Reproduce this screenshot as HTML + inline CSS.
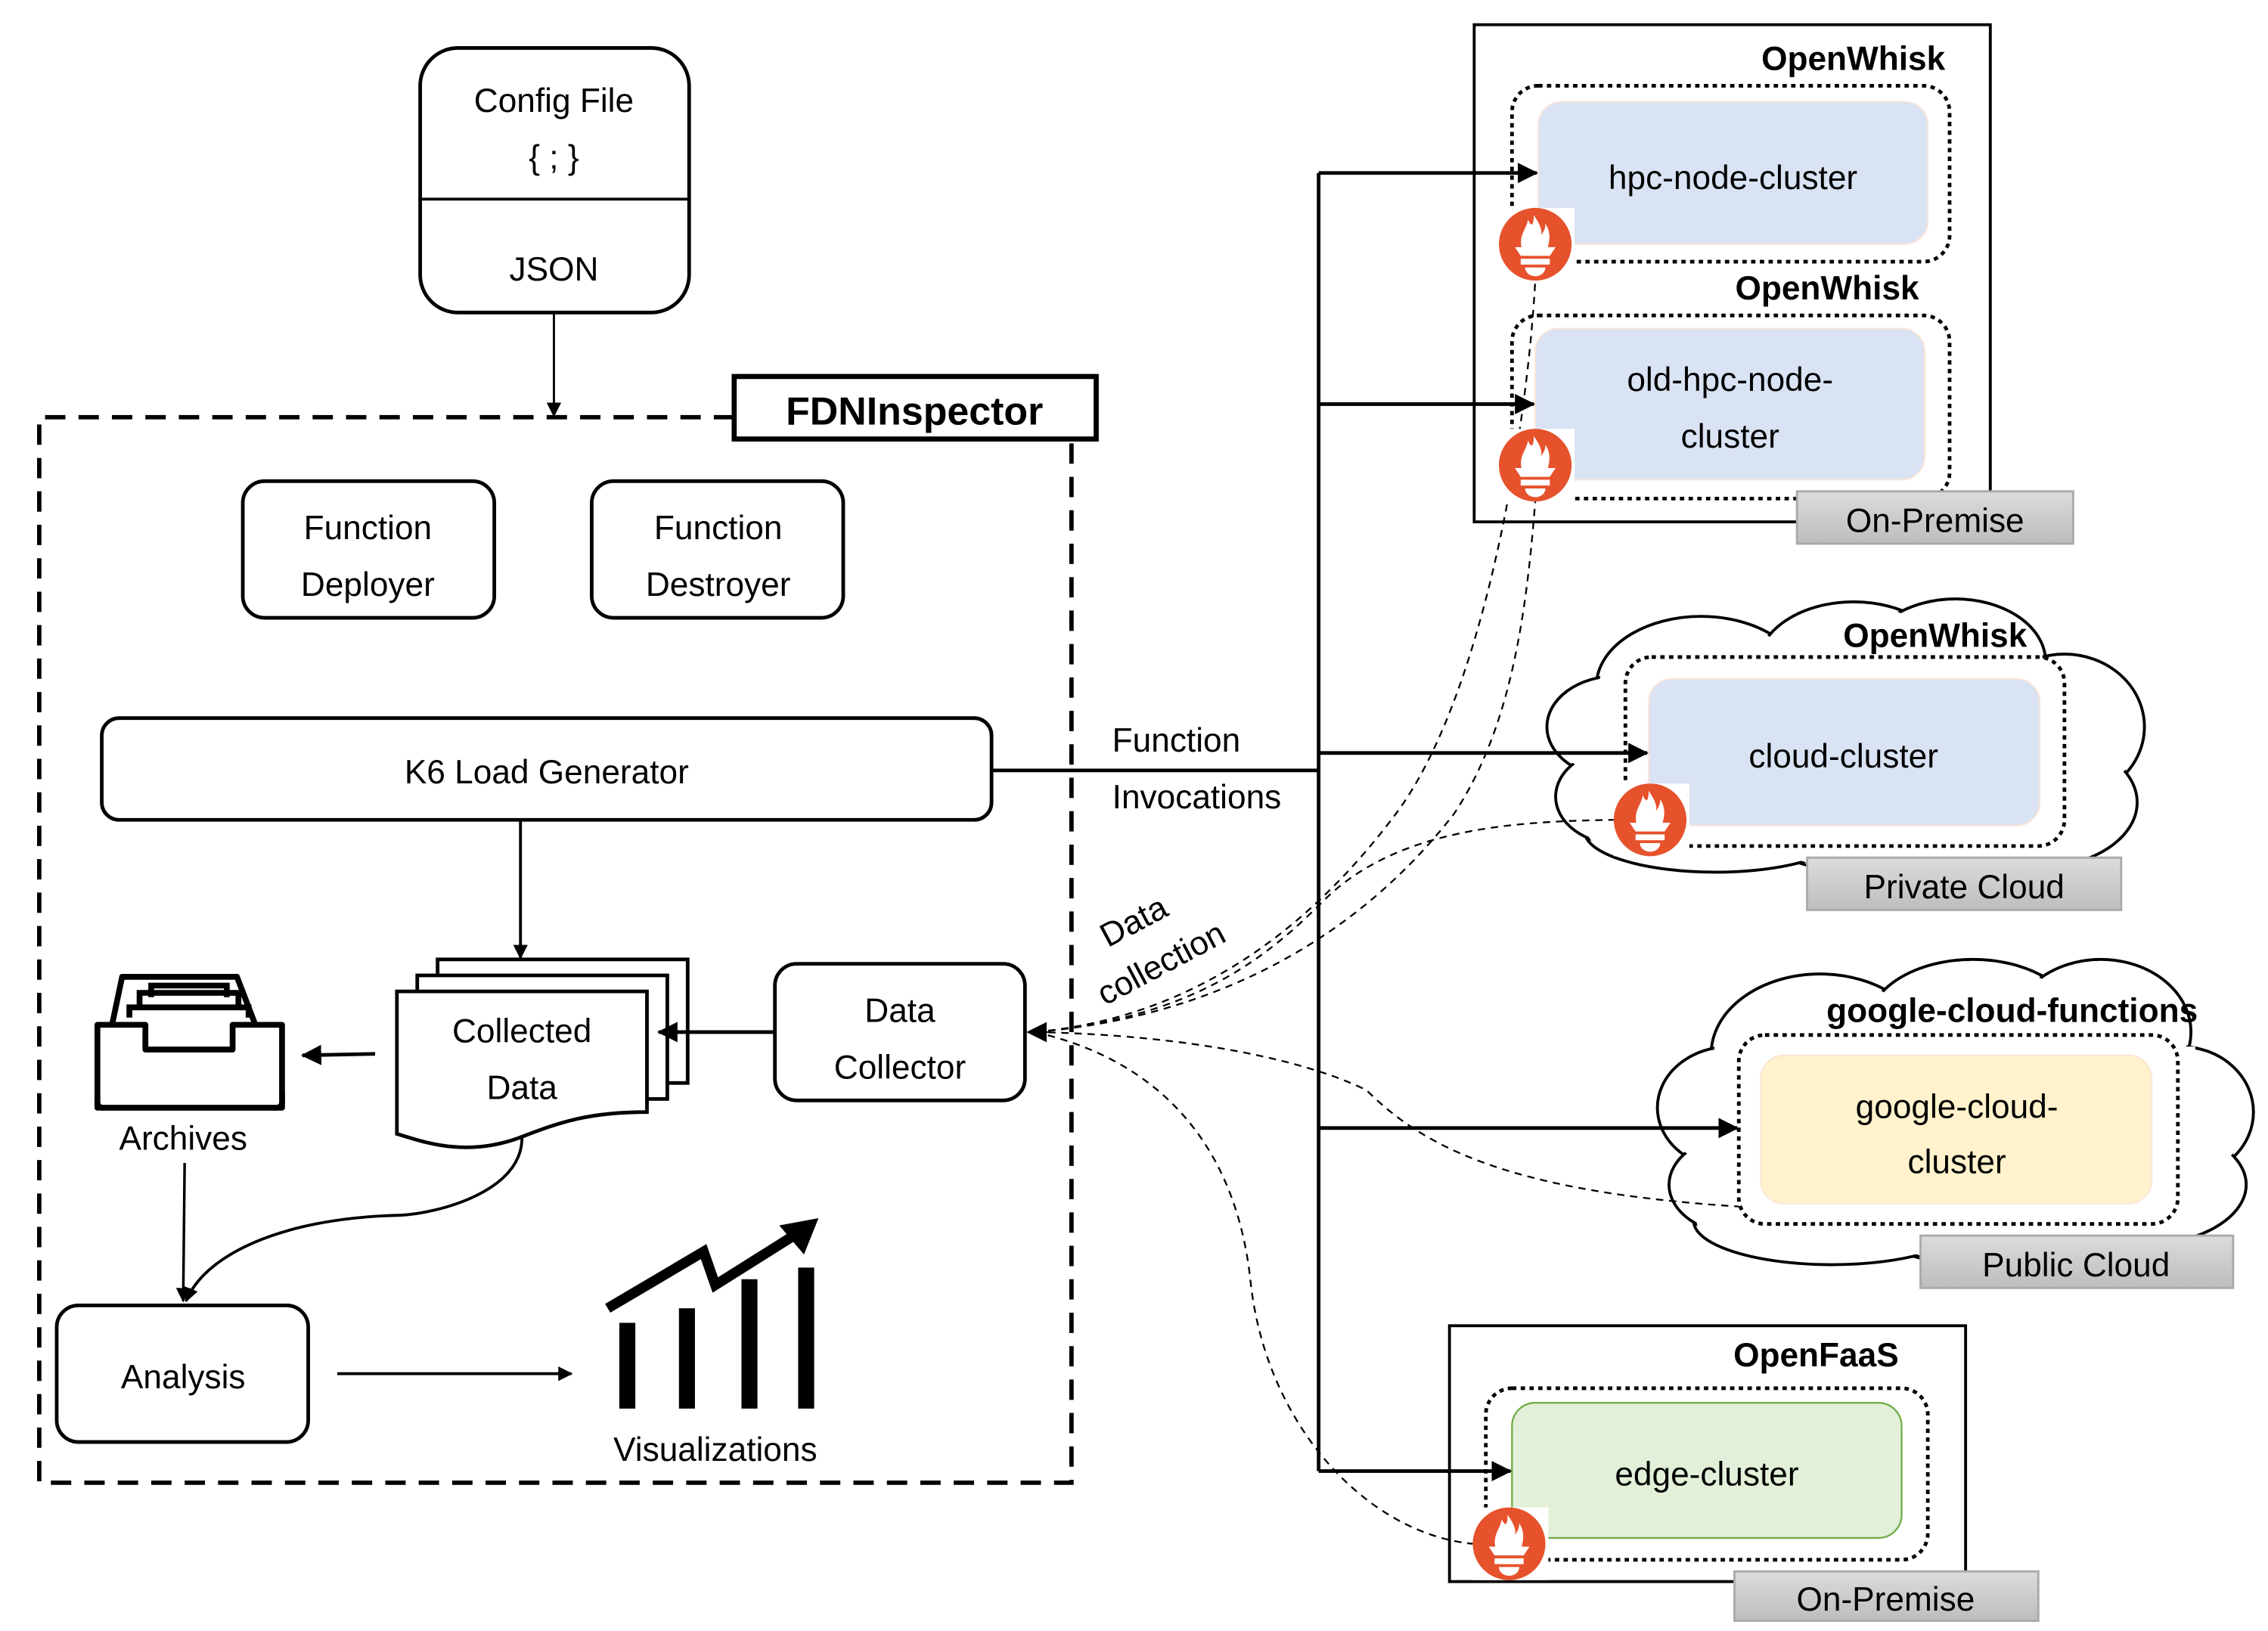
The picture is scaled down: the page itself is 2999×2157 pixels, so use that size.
<!DOCTYPE html>
<html><head><meta charset="utf-8">
<style>
html,body{margin:0;padding:0;background:#fff;}
svg{display:block;}
text{font-family:"Liberation Sans",sans-serif;fill:#000;}
</style></head>
<body>
<svg width="2999" height="2157" viewBox="0 0 1560 1122" preserveAspectRatio="none" xmlns="http://www.w3.org/2000/svg">
<defs>
<marker id="ah" markerWidth="10" markerHeight="10" refX="9" refY="5" orient="auto" markerUnits="userSpaceOnUse">
<path d="M0,0 L10,5 L0,10 z" fill="#000"/></marker>
<marker id="ahb" markerWidth="14" markerHeight="14" refX="13" refY="7" orient="auto" markerUnits="userSpaceOnUse">
<path d="M0,0 L14,7 L0,14 z" fill="#000"/></marker>
<linearGradient id="gr" x1="0" y1="0" x2="0" y2="1"><stop offset="0" stop-color="#dcdcdc"/><stop offset="1" stop-color="#bdbdbd"/></linearGradient>
<g id="prom">
<rect x="-25" y="-25" width="52" height="50" fill="#fff"/>
<circle cx="0" cy="0" r="25" fill="#e6522c"/>
<path d="M-9,4 C-12,-6 -6,-10 -5,-17 C-3,-12 -1,-12 -1,-20 C3,-14 5,-10 4,-6 C6,-9 7,-11 7,-14 C11,-8 10,-2 8,4 Z" fill="#fff"/>
<path d="M-14,2 L14,2 L10,8 L-10,8 Z" fill="#fff"/>
<rect x="-10" y="10" width="20" height="4" fill="#fff"/>
<path d="M-7,16 L7,16 A7,6 0 0 1 -7,16 Z" fill="#fff"/>
</g>
</defs>

<!-- Config file -->
<rect x="289" y="33" width="185" height="182" rx="26" fill="#fff" stroke="#000" stroke-width="2.5"/>
<line x1="289" y1="137" x2="474" y2="137" stroke="#000" stroke-width="2"/>
<text x="381" y="77" font-size="23" text-anchor="middle">Config File</text>
<text x="381" y="116" font-size="23" text-anchor="middle">{ ; }</text>
<text x="381" y="193" font-size="23" text-anchor="middle">JSON</text>
<line x1="381" y1="215" x2="381" y2="286" stroke="#000" stroke-width="1.5" marker-end="url(#ah)"/>

<!-- FDNInspector container -->
<path d="M505,287 L27,287 L27,1020 L737,1020 L737,302" fill="none" stroke="#000" stroke-width="3" stroke-dasharray="14,9"/>
<rect x="505" y="259" width="249" height="43" fill="#fff" stroke="#000" stroke-width="3.5"/>
<text x="629" y="292" font-size="27" font-weight="bold" text-anchor="middle">FDNInspector</text>

<rect x="167" y="331" width="173" height="94" rx="15" fill="#fff" stroke="#000" stroke-width="2.5"/>
<text x="253" y="371" font-size="23" text-anchor="middle">Function</text>
<text x="253" y="410" font-size="23" text-anchor="middle">Deployer</text>
<rect x="407" y="331" width="173" height="94" rx="15" fill="#fff" stroke="#000" stroke-width="2.5"/>
<text x="494" y="371" font-size="23" text-anchor="middle">Function</text>
<text x="494" y="410" font-size="23" text-anchor="middle">Destroyer</text>

<rect x="70" y="494" width="612" height="70" rx="12" fill="#fff" stroke="#000" stroke-width="2.5"/>
<text x="376" y="539" font-size="23" text-anchor="middle">K6 Load Generator</text>
<line x1="358" y1="564" x2="358" y2="659" stroke="#000" stroke-width="2" marker-end="url(#ah)"/>

<!-- Collected data -->
<rect x="301" y="660" width="172" height="85" fill="#fff" stroke="#000" stroke-width="2.5"/>
<rect x="287" y="671" width="172" height="85" fill="#fff" stroke="#000" stroke-width="2.5"/>
<path d="M273,682 L445,682 L445,765 C405,765 385,772 359,782 C320,797 290,785 273,780 Z" fill="#fff" stroke="#000" stroke-width="2.5"/>
<text x="359" y="717" font-size="23" text-anchor="middle">Collected</text>
<text x="359" y="756" font-size="23" text-anchor="middle">Data</text>

<rect x="533" y="663" width="172" height="94" rx="15" fill="#fff" stroke="#000" stroke-width="2.5"/>
<text x="619" y="703" font-size="23" text-anchor="middle">Data</text>
<text x="619" y="742" font-size="23" text-anchor="middle">Collector</text>
<line x1="533" y1="710" x2="453" y2="710" stroke="#000" stroke-width="2.5" marker-end="url(#ahb)"/>
<line x1="258" y1="725" x2="208" y2="726" stroke="#000" stroke-width="2.5" marker-end="url(#ahb)"/>

<!-- Archives icon -->
<path d="M84,672 L163,672 L194,753 L194,762 L67,762 L67,753 Z" fill="none" stroke="#000" stroke-width="4" stroke-linejoin="round"/>
<path d="M96,692 L96,683 L164,683 L164,692" fill="none" stroke="#000" stroke-width="4"/>
<path d="M89,700 L89,693 L171,693 L171,700" fill="none" stroke="#000" stroke-width="4"/>
<path d="M104,686 L104,678 L156,678 L156,686" fill="none" stroke="#000" stroke-width="4"/>
<path d="M67,705 L100,705 L100,722 L160,722 L160,705 L194,705 L194,758 Q194,762 190,762 L71,762 Q67,762 67,758 Z" fill="#fff" stroke="#000" stroke-width="4" stroke-linejoin="round"/>
<text x="126" y="791" font-size="23" text-anchor="middle">Archives</text>

<line x1="127" y1="800" x2="126" y2="895" stroke="#000" stroke-width="1.8" marker-end="url(#ah)"/>
<path d="M359,782 C360,820 300,835 275,836 C190,838 140,865 128,895" fill="none" stroke="#000" stroke-width="2" marker-end="url(#ah)"/>

<rect x="39" y="898" width="173" height="94" rx="15" fill="#fff" stroke="#000" stroke-width="2.5"/>
<text x="126" y="955" font-size="23" text-anchor="middle">Analysis</text>
<line x1="232" y1="945" x2="393" y2="945" stroke="#000" stroke-width="2" marker-end="url(#ah)"/>

<!-- Chart -->
<rect x="426" y="910" width="11" height="59" fill="#000"/>
<rect x="467" y="900" width="11" height="69" fill="#000"/>
<rect x="510" y="880" width="11" height="89" fill="#000"/>
<rect x="549" y="872" width="11" height="97" fill="#000"/>
<path d="M418,900 L484,861 L492,884 L546,850" fill="none" stroke="#000" stroke-width="7"/>
<path d="M563,838 L536,843 L553,863 Z" fill="#000"/>
<text x="492" y="1005" font-size="23" text-anchor="middle">Visualizations</text>

<text x="765" y="517" font-size="23">Function</text>
<text x="765" y="556" font-size="23">Invocations</text>
<text x="0" y="0" font-size="23" transform="translate(762,652) rotate(-28)">Data</text>
<text x="0" y="0" font-size="23" transform="translate(760,692) rotate(-28)">collection</text>

<!-- OpenWhisk on-prem box -->
<rect x="1014" y="17" width="355" height="342" fill="#fff" stroke="#000" stroke-width="2"/>
<text x="1338" y="48" font-size="23" font-weight="bold" text-anchor="end">OpenWhisk</text>
<rect x="1040" y="59" width="301" height="121" rx="18" fill="none" stroke="#000" stroke-width="2.5" stroke-dasharray="3,3"/>
<rect x="1058" y="70" width="268" height="98" rx="16" fill="#dae3f3" stroke="#fbe5d6" stroke-width="1"/>
<text x="1192" y="130" font-size="23" text-anchor="middle">hpc-node-cluster</text>
<text x="1320" y="206" font-size="23" font-weight="bold" text-anchor="end">OpenWhisk</text>
<rect x="1040" y="217" width="301" height="126" rx="18" fill="none" stroke="#000" stroke-width="2.5" stroke-dasharray="3,3"/>
<rect x="1056" y="226" width="268" height="104" rx="16" fill="#dae3f3" stroke="#fbe5d6" stroke-width="1"/>
<text x="1190" y="269" font-size="23" text-anchor="middle">old-hpc-node-</text>
<text x="1190" y="308" font-size="23" text-anchor="middle">cluster</text>
<rect x="1236" y="338" width="190" height="36" fill="url(#gr)" stroke="#aaa" stroke-width="1.5"/>
<text x="1331" y="366" font-size="23" text-anchor="middle">On-Premise</text>

<!-- Cloud 1 -->
<g stroke="#000" stroke-width="2" fill="#fff">
<ellipse cx="1170" cy="472" rx="72" ry="48"/><ellipse cx="1275" cy="458" rx="66" ry="44"/><ellipse cx="1345" cy="455" rx="62" ry="43"/>
<ellipse cx="1420" cy="500" rx="55" ry="50"/><ellipse cx="1400" cy="552" rx="70" ry="45"/><ellipse cx="1300" cy="572" rx="90" ry="30"/>
<ellipse cx="1180" cy="572" rx="90" ry="28"/><ellipse cx="1112" cy="500" rx="48" ry="35"/><ellipse cx="1115" cy="548" rx="45" ry="33"/>
</g>
<g fill="#fff">
<ellipse cx="1170" cy="472" rx="70" ry="46"/><ellipse cx="1275" cy="458" rx="64" ry="42"/><ellipse cx="1345" cy="455" rx="60" ry="41"/>
<ellipse cx="1420" cy="500" rx="53" ry="48"/><ellipse cx="1400" cy="552" rx="68" ry="43"/><ellipse cx="1300" cy="572" rx="88" ry="28"/>
<ellipse cx="1180" cy="572" rx="88" ry="26"/><ellipse cx="1112" cy="500" rx="46" ry="33"/><ellipse cx="1115" cy="548" rx="43" ry="31"/>
<rect x="1110" y="470" width="320" height="100"/>
</g>
<text x="1331" y="445" font-size="23" font-weight="bold" text-anchor="middle">OpenWhisk</text>
<rect x="1118" y="452" width="302" height="130" rx="18" fill="none" stroke="#000" stroke-width="2.5" stroke-dasharray="3,3"/>
<rect x="1134" y="467" width="269" height="101" rx="16" fill="#dae3f3" stroke="#fbe5d6" stroke-width="1"/>
<text x="1268" y="528" font-size="23" text-anchor="middle">cloud-cluster</text>
<rect x="1243" y="590" width="216" height="36" fill="url(#gr)" stroke="#aaa" stroke-width="1.5"/>
<text x="1351" y="618" font-size="23" text-anchor="middle">Private Cloud</text>

<!-- Cloud 2 -->
<g stroke="#000" stroke-width="2" fill="#fff">
<ellipse cx="1252" cy="725" rx="75" ry="55"/><ellipse cx="1357" cy="705" rx="72" ry="45"/><ellipse cx="1445" cy="710" rx="62" ry="50"/>
<ellipse cx="1500" cy="765" rx="50" ry="45"/><ellipse cx="1470" cy="815" rx="75" ry="42"/><ellipse cx="1380" cy="842" rx="95" ry="30"/>
<ellipse cx="1260" cy="840" rx="95" ry="30"/><ellipse cx="1190" cy="762" rx="50" ry="42"/><ellipse cx="1200" cy="815" rx="52" ry="35"/>
</g>
<g fill="#fff">
<ellipse cx="1252" cy="725" rx="73" ry="53"/><ellipse cx="1357" cy="705" rx="70" ry="43"/><ellipse cx="1445" cy="710" rx="60" ry="48"/>
<ellipse cx="1500" cy="765" rx="48" ry="43"/><ellipse cx="1470" cy="815" rx="73" ry="40"/><ellipse cx="1380" cy="842" rx="93" ry="28"/>
<ellipse cx="1260" cy="840" rx="93" ry="28"/><ellipse cx="1190" cy="762" rx="48" ry="40"/><ellipse cx="1200" cy="815" rx="50" ry="33"/>
<rect x="1190" y="720" width="320" height="110"/>
</g>
<text x="1384" y="703" font-size="23" font-weight="bold" text-anchor="middle">google-cloud-functions</text>
<rect x="1196" y="712" width="302" height="130" rx="18" fill="none" stroke="#000" stroke-width="2.5" stroke-dasharray="3,3"/>
<rect x="1211" y="726" width="269" height="102" rx="16" fill="#fff2cc" stroke="#fbe5d6" stroke-width="1"/>
<text x="1346" y="769" font-size="23" text-anchor="middle">google-cloud-</text>
<text x="1346" y="807" font-size="23" text-anchor="middle">cluster</text>
<rect x="1321" y="850" width="215" height="36" fill="url(#gr)" stroke="#aaa" stroke-width="1.5"/>
<text x="1428" y="878" font-size="23" text-anchor="middle">Public Cloud</text>

<!-- OpenFaaS -->
<rect x="997" y="912" width="355" height="176" fill="#fff" stroke="#000" stroke-width="2"/>
<text x="1306" y="940" font-size="23" font-weight="bold" text-anchor="end">OpenFaaS</text>
<rect x="1022" y="955" width="304" height="118" rx="18" fill="none" stroke="#000" stroke-width="2.5" stroke-dasharray="3,3"/>
<rect x="1040" y="965" width="268" height="93" rx="16" fill="#e2f0d9" stroke="#70ad47" stroke-width="1.2"/>
<text x="1174" y="1022" font-size="23" text-anchor="middle">edge-cluster</text>
<rect x="1193" y="1081" width="209" height="34" fill="url(#gr)" stroke="#aaa" stroke-width="1.5"/>
<text x="1297" y="1108" font-size="23" text-anchor="middle">On-Premise</text>

<!-- Function invocation connectors (drawn on top) -->
<line x1="682" y1="530" x2="908" y2="530" stroke="#000" stroke-width="2.5"/>
<line x1="907" y1="119" x2="907" y2="1012" stroke="#000" stroke-width="2.5"/>
<line x1="907" y1="119" x2="1057" y2="119" stroke="#000" stroke-width="2.5" marker-end="url(#ahb)"/>
<line x1="907" y1="278" x2="1055" y2="278" stroke="#000" stroke-width="2.5" marker-end="url(#ahb)"/>
<line x1="907" y1="518" x2="1133" y2="518" stroke="#000" stroke-width="2.5" marker-end="url(#ahb)"/>
<line x1="907" y1="776" x2="1195" y2="776" stroke="#000" stroke-width="2.5" marker-end="url(#ahb)"/>
<line x1="907" y1="1012" x2="1039" y2="1012" stroke="#000" stroke-width="2.5" marker-end="url(#ahb)"/>

<!-- Data collection dashed curves -->
<g fill="none" stroke="#000" stroke-width="1.2" stroke-dasharray="5,4">
<path d="M712,710 C820,700 900,640 960,560 C1020,480 1050,300 1056,193"/>
<path d="M712,710 C830,700 930,650 1000,560 C1040,500 1050,420 1056,345"/>
<path d="M712,710 C820,700 870,660 910,620 C960,570 1040,565 1110,564"/>
<path d="M712,710 C820,712 900,730 940,750 C980,790 1040,820 1196,830"/>
<path d="M712,710 C800,730 850,790 860,880 C870,980 940,1055 1013,1062"/>
</g>
<line x1="722" y1="710" x2="707" y2="710" stroke="#000" stroke-width="1" marker-end="url(#ahb)"/>

<use href="#prom" x="1056" y="168"/>
<use href="#prom" x="1056" y="320"/>
<use href="#prom" x="1135" y="564"/>
<use href="#prom" x="1038" y="1062"/>
</svg>
</body></html>
